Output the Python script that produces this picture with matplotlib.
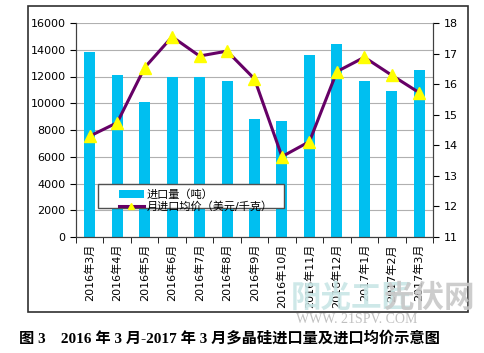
import numpy as np
import matplotlib.pyplot as plt
from matplotlib.patches import Rectangle

months = ['2016年3月', '2016年4月', '2016年5月', '2016年6月', '2016年7月',
          '2016年8月', '2016年9月', '2016年10月', '2016年11月', '2016年12月',
          '2017年1月', '2017年2月', '2017年3月']
volume = [13800, 12100, 10100, 12000, 12000, 11650, 8850,
          8700, 13600, 14400, 11700, 10900, 12500]
price = [14.30, 14.74, 16.54, 17.55, 16.92, 17.08, 16.17,
         13.63, 14.12, 16.41, 16.88, 16.29, 15.72]

plt.rcParams['font.family'] = ['DejaVu Sans', 'Noto Sans CJK SC']

W, H = 485, 353
fig = plt.figure(figsize=(W / 100, H / 100), dpi=100)
ax = fig.add_axes([76 / W, 1 - 237 / H, 357 / W, 214 / H])

x = np.arange(len(months))
bars = ax.bar(x, volume, width=0.4, color='#00bff0', zorder=2)
ax.set_ylim(0, 16000)
ax.set_yticks(range(0, 16001, 2000))
ax.set_xlim(-0.5, len(months) - 0.5)
ax.set_xticks(x)
ax.set_xticklabels(months, rotation=90, fontsize=8)
ax.set_xticks(np.arange(-0.5, len(months), 1), minor=True)
ax.tick_params(axis='x', which='major', length=0, pad=5)
ax.tick_params(axis='x', which='minor', length=4, direction='out')
ax.tick_params(axis='y', labelsize=8, length=4, direction='out')
ax.grid(axis='y', color='#b0b0b0', linewidth=0.8, zorder=0)
ax.spines['top'].set_visible(False)

ax2 = ax.twinx()
line, = ax2.plot(x, price, color='#660066', linewidth=2.2, marker='^',
                 markersize=8, markerfacecolor='#ffff00', markeredgecolor='#ffff00',
                 zorder=3)
ax2.set_ylim(11, 18)
ax2.set_yticks(range(11, 19))
ax2.tick_params(axis='y', labelsize=8, length=4, direction='out')
ax2.spines['top'].set_visible(False)
for a in (ax, ax2):
    for s in ('left', 'right', 'bottom'):
        a.spines[s].set_color('#404040')

# legend box drawn by hand so it can be wider than its contents
ax2.add_patch(Rectangle((98 / W, 1 - 208 / H), 186 / W, 24 / H,
                        transform=fig.transFigure, facecolor='white',
                        edgecolor='#505050', linewidth=1.0, zorder=5,
                        clip_on=False))
leg = ax2.legend([bars, line], ['进口量（吨）', '月进口均价（美元/千克）'],
                 loc='upper left', bbox_to_anchor=(112 / W, 1 - 183 / H),
                 bbox_transform=fig.transFigure, fontsize=8, frameon=False,
                 borderpad=0.1, labelspacing=0.1, handlelength=2.3,
                 handletextpad=0.2, markerscale=0.6)
leg.set_zorder(6)

# outer frame
fig.patches.append(Rectangle((28 / W, 1 - 312 / H), 440 / W, 306 / H,
                             transform=fig.transFigure, fill=False,
                             edgecolor='#303030', linewidth=1.2))

# watermark
fig.text(0.60, 0.13, '阳光工匠', fontsize=22, color='#c9e6e6', fontweight='bold',
         family=['Noto Sans CJK SC'], alpha=0.9)
fig.text(0.79, 0.13, '光伏网', fontsize=22, color='#c8c8c8', fontweight='bold',
         family=['Noto Sans CJK SC'], alpha=0.9)
fig.text(0.61, 0.085, 'WWW. 21SPV. COM', fontsize=10, color='#c0c0c0',
         family=['Liberation Serif'])

fig.text(0.04, 0.03, '图 3　2016 年 3 月-2017 年 3 月多晶硅进口量及进口均价示意图',
         fontsize=11, fontweight='bold', family=['Liberation Serif', 'Noto Sans CJK SC'])

fig.savefig('out.png', dpi=100)
